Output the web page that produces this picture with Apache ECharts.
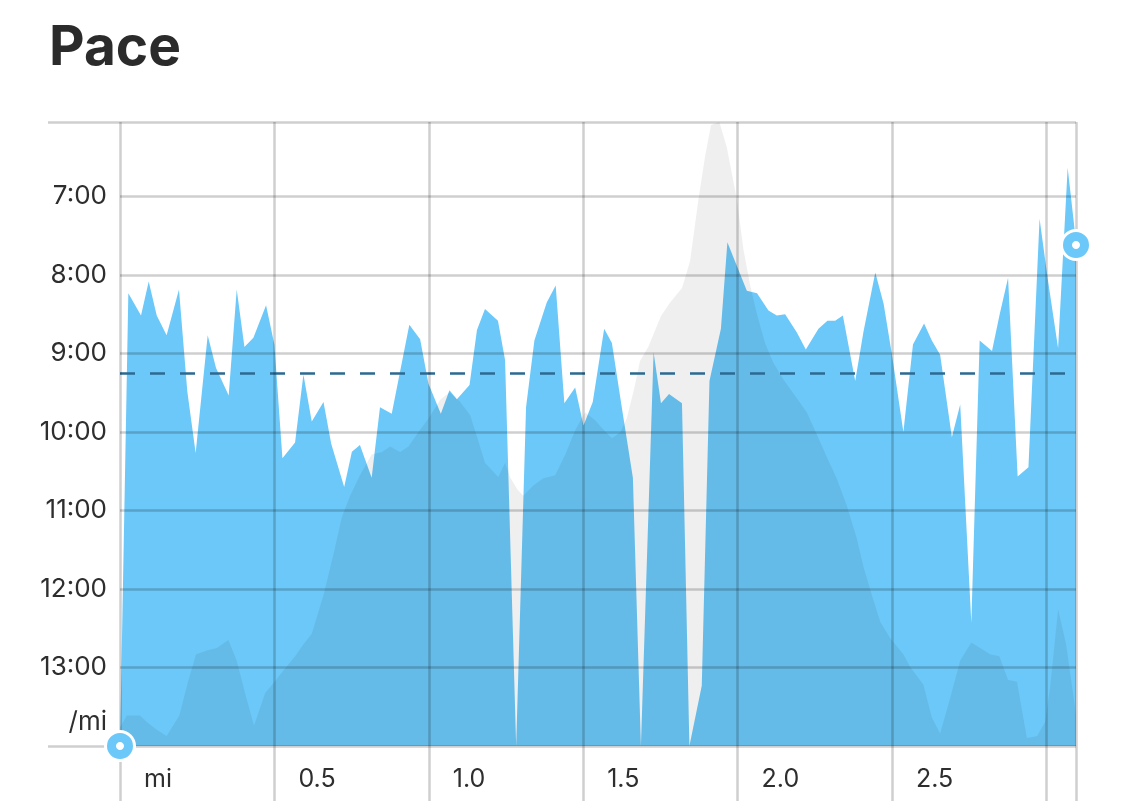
<!DOCTYPE html>
<html><head><meta charset="utf-8">
<script src="https://cdn.jsdelivr.net/npm/echarts@6/dist/echarts.min.js"></script>
<style>html,body{margin:0;padding:0;background:#fff}#c{width:1125px;height:801px}</style>
</head><body><div id="c"></div>
<script>
// distance (mi) and pace (seconds per mile)
const paceDist = [0, 0.027, 0.068, 0.093, 0.119, 0.151, 0.191, 0.218, 0.245, 0.284, 0.311, 0.352, 0.378, 0.403, 0.432, 0.473, 0.500, 0.526, 0.567, 0.594, 0.621, 0.659, 0.684, 0.726, 0.751, 0.777, 0.815, 0.842, 0.880, 0.937, 0.972, 0.999, 1.039, 1.067, 1.091, 1.132, 1.156, 1.182, 1.224, 1.247, 1.283, 1.315, 1.342, 1.382, 1.411, 1.439, 1.474, 1.501, 1.531, 1.568, 1.593, 1.625, 1.661, 1.687, 1.728, 1.752, 1.778, 1.820, 1.844, 1.884, 1.909, 1.946, 1.967, 2.030, 2.063, 2.100, 2.127, 2.154, 2.192, 2.221, 2.262, 2.291, 2.316, 2.341, 2.381, 2.408, 2.446, 2.473, 2.500, 2.537, 2.568, 2.604, 2.629, 2.656, 2.694, 2.721, 2.757, 2.784, 2.824, 2.848, 2.876, 2.907, 2.942, 2.978, 3.004, 3.038, 3.069, 3.090, 3.096];
const paceSec = [840, 494, 511, 485, 511, 526, 491, 569, 616, 526, 551, 572, 491, 535, 528, 503, 533, 620, 608, 556, 592, 577, 609, 642, 615, 610, 635, 581, 586, 518, 529, 563, 586, 568, 575, 564, 522, 506, 515, 545, 840, 581, 530, 501, 488, 578, 566, 595, 577, 521, 532, 581, 635, 840, 539, 578, 571, 578, 840, 794, 561, 521, 455, 492, 494, 507, 511, 510, 524, 537, 521, 515, 515, 511, 561, 523, 478, 502, 541, 600, 533, 517, 530, 541, 604, 579, 746, 530, 538, 511, 482, 634, 627, 437, 482, 536, 398, 442, 457];
// elevation profile (relative units 0-100)
const eleDist = [0, 0.022, 0.065, 0.086, 0.119, 0.151, 0.192, 0.219, 0.246, 0.281, 0.313, 0.351, 0.378, 0.405, 0.434, 0.470, 0.497, 0.529, 0.567, 0.594, 0.621, 0.659, 0.691, 0.718, 0.745, 0.777, 0.815, 0.848, 0.875, 0.907, 0.934, 0.966, 0.999, 1.037, 1.067, 1.101, 1.134, 1.156, 1.182, 1.225, 1.247, 1.263, 1.287, 1.306, 1.339, 1.371, 1.409, 1.442, 1.474, 1.506, 1.539, 1.560, 1.593, 1.620, 1.641, 1.663, 1.684, 1.711, 1.752, 1.782, 1.820, 1.846, 1.873, 1.895, 1.914, 1.941, 1.965, 1.998, 2.019, 2.041, 2.063, 2.089, 2.116, 2.149, 2.187, 2.224, 2.257, 2.289, 2.322, 2.354, 2.386, 2.408, 2.435, 2.462, 2.494, 2.537, 2.559, 2.602, 2.629, 2.656, 2.689, 2.721, 2.757, 2.786, 2.818, 2.848, 2.876, 2.905, 2.937, 2.970, 2.996, 3.013, 3.038, 3.064, 3.090, 3.096];
const eleVal = [3.0, 4.9, 4.9, 3.9, 2.6, 1.6, 4.9, 10.1, 14.7, 15.3, 15.7, 17.0, 13.7, 8.5, 3.3, 8.5, 10.1, 12.1, 14.4, 16.3, 18.0, 24.2, 30.7, 36.6, 40.1, 43.4, 46.7, 47.1, 48.0, 47.1, 48.0, 50.3, 52.5, 55.5, 56.7, 55.2, 53.0, 49.6, 45.4, 43.1, 45.4, 43.1, 41.1, 40.1, 41.8, 42.9, 43.4, 46.7, 50.6, 53.5, 52.2, 51.0, 49.3, 50.3, 52.5, 56.8, 61.7, 64.0, 68.9, 71.1, 73.4, 77.7, 87.5, 94.6, 99.5, 100, 96.0, 87.5, 79.6, 73.8, 69.2, 64.6, 61.4, 58.7, 56.1, 53.5, 49.9, 46.3, 42.8, 38.5, 33.3, 28.7, 24.2, 19.9, 17.3, 14.7, 12.7, 9.8, 4.6, 2.0, 7.8, 13.7, 16.6, 15.7, 14.7, 14.4, 10.6, 10.3, 1.3, 1.6, 3.9, 9.8, 21.9, 16.3, 7.2, 5.0];
const avgPaceSec = 555;
const yTickSec = [420, 480, 540, 600, 660, 720, 780];
const xTickMi = [0, 0.5, 1.0, 1.5, 2.0, 2.5, 3.0];
const xLabelMi = [0, 0.5, 1.0, 1.5, 2.0, 2.5];
const paceMin = 363, paceMax = 840, distMax = 3.096;

const FONT = 'Inter, Roboto, sans-serif';
const gridColor = 'rgba(0,0,0,0.19)';
const blue = '#6cc8f8';
function fmt(v) { const m = Math.floor(v / 60), s = Math.round(v % 60); return m + ':' + (s < 10 ? '0' : '') + s; }

const chart = echarts.init(document.getElementById('c'), null, {renderer: 'canvas'});
const lastIdx = paceDist.length - 1;
const endPoints = [[paceDist[0], paceSec[0]], [paceDist[lastIdx], paceSec[lastIdx]]];
chart.setOption({
  animation: false,
  title: {text: 'Pace', left: 44, top: 16, textStyle: {fontFamily: FONT, fontSize: 55, fontWeight: 700, color: '#2b2b2b'}},
  grid: {left: 120, right: 49, top: 122, bottom: 55},
  xAxis: {
    type: 'value', min: 0, max: distMax, z: 10,
    axisLine: {show: false},
    axisTick: {show: true, length: 55, customValues: xTickMi.concat([distMax]), lineStyle: {color: gridColor, width: 2.5}},
    splitLine: {show: true, lineStyle: {color: gridColor, width: 2.5}},
    axisLabel: {customValues: xLabelMi, formatter: v => v === 0 ? 'mi' : v.toFixed(1), align: 'left', padding: [0, 0, 0, 24], margin: 21, fontFamily: FONT, fontSize: 25, color: '#2e2e2e'}
  },
  yAxis: [
    {type: 'value', inverse: true, min: paceMin, max: paceMax, z: 10, position: 'left',
      axisLine: {show: false},
      axisTick: {show: false, customValues: [paceMin].concat(yTickSec, [paceMax])},
      splitLine: {show: true, lineStyle: {color: gridColor, width: 2.5}},
      axisLabel: {customValues: yTickSec.concat([paceMax]), margin: 13, fontFamily: FONT, fontSize: 26, color: '#2e2e2e',
        formatter: v => v === paceMax ? '{u|/mi}' : fmt(v),
        rich: {u: {fontFamily: FONT, fontSize: 26, color: '#2e2e2e', padding: [0, 0, 48, 0]}}}
    },
    {type: 'value', inverse: true, min: paceMin, max: paceMax, z: 10, position: 'left',
      axisLine: {show: false}, splitLine: {show: false}, axisLabel: {show: false},
      axisTick: {show: true, length: 72, customValues: [paceMin, paceMax], lineStyle: {color: gridColor, width: 2.5}}
    },
    {type: 'value', min: 0, max: 100, show: false}
  ],
  series: [
    {type: 'line', data: paceDist.map((d, i) => [d, paceSec[i]]), yAxisIndex: 0, symbol: 'none', z: 2,
      lineStyle: {width: 0, opacity: 0}, areaStyle: {color: blue, opacity: 1, origin: 'end'},
      markLine: {silent: true, symbol: 'none', label: {show: false}, z: 5,
        lineStyle: {color: '#2b6a93', width: 2.5, type: [15, 15]}, data: [{yAxis: avgPaceSec}]}
    },
    {type: 'line', data: eleDist.map((d, i) => [d, eleVal[i]]), yAxisIndex: 2, symbol: 'none', z: 3,
      lineStyle: {width: 0, opacity: 0}, areaStyle: {color: 'rgba(0,0,0,0.062)', opacity: 1}},
    {type: 'scatter', data: endPoints, yAxisIndex: 0, symbolSize: 32, clip: false, silent: true, z: 20,
      itemStyle: {color: '#fff', opacity: 1}},
    {type: 'scatter', data: endPoints, yAxisIndex: 0, symbolSize: 17, clip: false, silent: true, z: 21,
      itemStyle: {color: '#fff', borderColor: blue, borderWidth: 9, opacity: 1}}
  ]
});
</script></body></html>
